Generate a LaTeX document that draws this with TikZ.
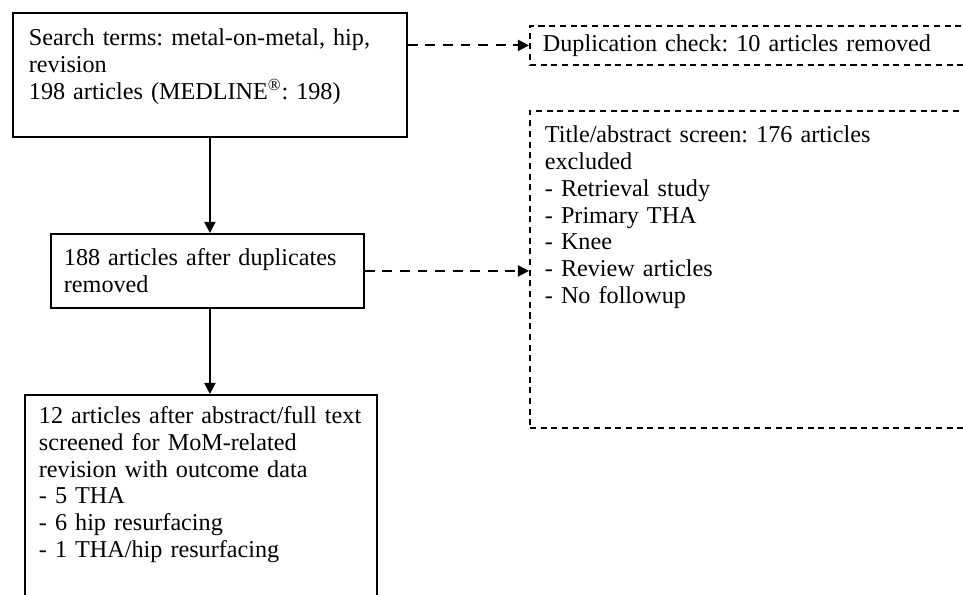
\documentclass[tikz,border=0pt]{standalone}
\usepackage{fontspec}
\setmainfont{Liberation Serif}
\frenchspacing
\usetikzlibrary{arrows.meta}

\begin{document}
\begin{tikzpicture}
        % Styles pour les boîtes et les flèches
        \tikzstyle{arrow} = [line width=1.4pt,->,>={Triangle[length=8pt,width=8pt]}]
        \tikzstyle{dasharrow} = [arrow,dash pattern=on 7pt off 5.5pt]
        \tikzstyle{box} = [draw,line width=1.3pt,anchor=north west,align=left,
            font=\fontsize{17.2}{19}\selectfont]
        \tikzstyle{dashbox} = [box,dash pattern=on 4.3pt off 3.3pt]

        % Cadre de la figure
        \useasboundingbox (0,0) rectangle (24.075,-14.875);
        \clip (0,0) rectangle (24.075,-14.875);

        % Boîtes de gauche (articles retenus)
        \node[box,text width=9.05cm,inner xsep=0.4cm,inner ysep=0.4cm,
            text height=0.42cm,text depth=1.88cm] (srch) at (0.3,-0.3)
            {Search terms: metal-on-metal, hip,\\revision\\198 articles (MEDLINE\textsuperscript{®}: 198)};
        \node[box,text width=7.175cm,inner xsep=0.325cm,minimum height=1.85cm] (dedup) at (1.25,-5.825)
            {188 articles after duplicates\\removed};
        \node[box,text width=8.1cm,inner xsep=0.35cm,inner ysep=0.3cm,
            text height=0.42cm,text depth=6cm] (incl) at (0.6,-9.85)
            {12 articles after abstract/full text\\screened for MoM-related\\revision with outcome data\\- 5 THA\\- 6 hip resurfacing\\- 1 THA/hip resurfacing};

        % Boîtes de droite (articles exclus)
        \node[dashbox,text width=12cm,inner xsep=0.325cm,minimum height=0.975cm] (dupchk) at (13.225,-0.625)
            {Duplication check: 10 articles removed};
        \node[dashbox,text width=12cm,inner xsep=0.375cm,inner ysep=0.38cm,
            text height=0.42cm,text depth=6.745cm] (excl) at (13.225,-2.75)
            {Title/abstract screen: 176 articles\\excluded\\- Retrieval study\\- Primary THA\\- Knee\\- Review articles\\- No followup};

        % Flèches
        \draw[arrow] (srch.south) -- (srch.south |- dedup.north);
        \draw[arrow] (srch.south |- dedup.south) -- (srch.south |- incl.north);
        \draw[dasharrow] (srch.east |- dupchk.west) -- (dupchk.west);
        \draw[dasharrow] (dedup.east) -- (dedup.east -| excl.west);

\end{tikzpicture}
\end{document}
